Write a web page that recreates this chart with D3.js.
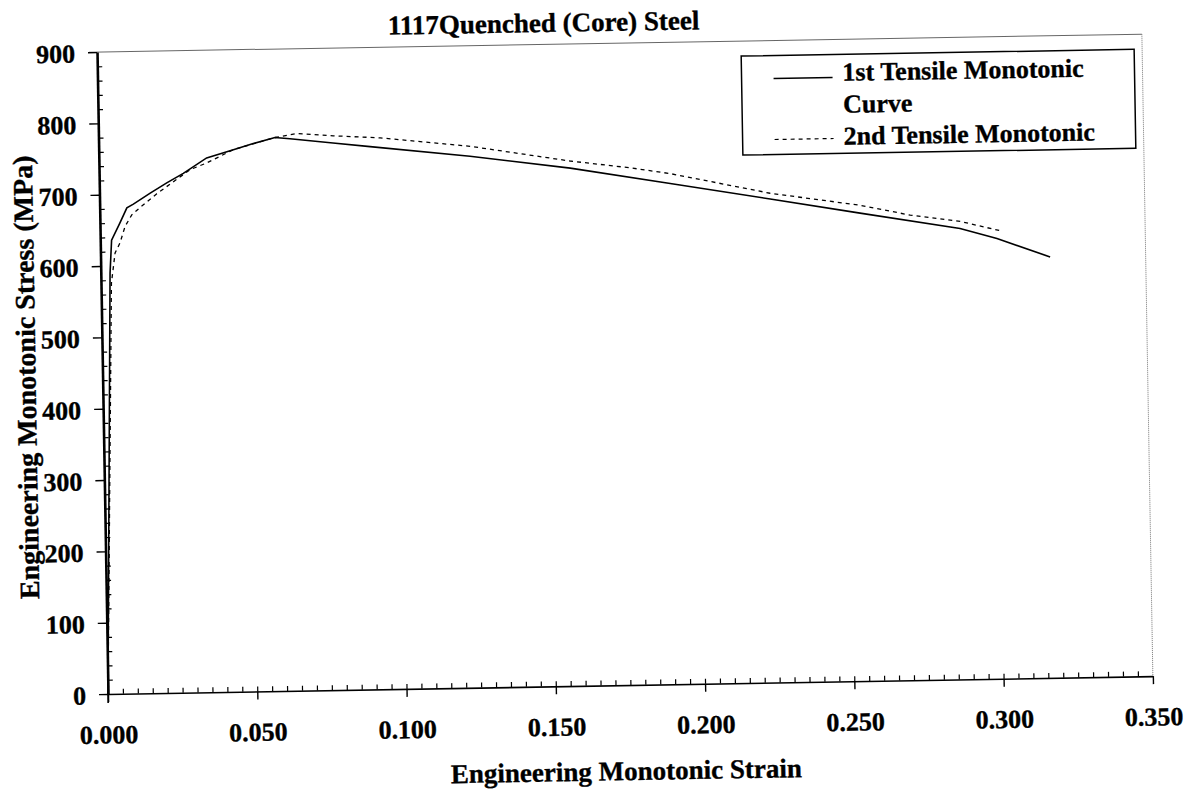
<!DOCTYPE html>
<html>
<head>
<meta charset="utf-8">
<script src="https://cdn.jsdelivr.net/npm/d3@7"></script>
<style>
  body { margin: 0; background: #fff; }
  svg text { font-family: "Liberation Serif", "Times New Roman", serif; font-weight: bold; fill: #000; stroke: #000; stroke-width: 0.35px; }
</style>
</head>
<body>
<div id="chart"></div>
<script>
// values
const chartTitle = "1117Quenched (Core) Steel";
const xTitle = "Engineering Monotonic Strain";
const yTitle = "Engineering Monotonic Stress (MPa)";
const seriesNames = [["1st Tensile Monotonic", "Curve"], ["2nd Tensile Monotonic"]];

const strain1 = [0, 0.0031, 0.0038, 0.0067, 0.0091, 0.0113, 0.017, 0.0226, 0.0282, 0.0361, 0.0451,
  0.0518, 0.0591, 0.0641, 0.0785, 0.0909, 0.1243, 0.1578, 0.1912, 0.2246, 0.2546, 0.288, 0.3003, 0.318];
const stress1 = [0, 590, 636, 660, 681, 686, 701, 715, 728, 749, 760,
  768, 776, 774, 767, 761, 745, 726, 702, 678, 656, 632, 617, 590];

const strain2 = [0, 0.0035, 0.0049, 0.0066, 0.0084, 0.0107, 0.0135, 0.0192, 0.0305, 0.0361, 0.0451,
  0.0591, 0.0664, 0.0786, 0.0943, 0.1244, 0.1578, 0.1779, 0.1912, 0.2246, 0.2547, 0.2714, 0.2881, 0.3014];
const stress2 = [0, 576, 618, 632, 655, 671, 681, 700, 733, 742, 760,
  776, 781, 777, 773, 759, 736, 725, 716, 686, 667, 652, 642, 628];

const xTicks = [0, 0.05, 0.1, 0.15, 0.2, 0.25, 0.3, 0.35];
const yTicks = [0, 100, 200, 300, 400, 500, 600, 700, 800, 900];

const width = 1204, height = 792;
const x = d3.scaleLinear().domain([0, 0.35]).range([108, 1153]);
const y = d3.scaleLinear().domain([0, 900]).range([694, 52]);

const svg = d3.select("#chart").append("svg")
  .attr("width", width).attr("height", height);

// the scan is tilted a little, so turn the whole plot about the origin
const g = svg.append("g")
  .attr("transform", `rotate(-0.98,${x(0)},${y(0)})`);

// top and right frame
g.append("line")
  .attr("x1", x(0) - 8).attr("x2", x(0.35))
  .attr("y1", y(900)).attr("y2", y(900))
  .attr("stroke", "#666").attr("stroke-width", 1);
g.append("line")
  .attr("x1", x(0.35)).attr("x2", x(0.35))
  .attr("y1", y(900)).attr("y2", y(0))
  .attr("stroke", "#777").attr("stroke-width", 1).attr("stroke-dasharray", "1,1");

// minor ticks
const xMinor = d3.range(1, 70).map(i => +(i * 0.005).toFixed(3));
const yMinor = d3.range(1, 45).map(i => i * 20).filter(v => v % 100 !== 0);

g.append("g")
  .attr("transform", `translate(0,${y(0)})`)
  .call(d3.axisBottom(x).tickValues(xMinor).tickSize(-5).tickFormat(""))
  .call(a => a.select(".domain").remove())
  .selectAll("line").attr("stroke", "#000").attr("stroke-width", 1.2);

g.append("g")
  .attr("transform", `translate(${x(0)},0)`)
  .call(d3.axisLeft(y).tickValues(yMinor).tickSize(-5).tickFormat(""))
  .call(a => a.select(".domain").remove())
  .selectAll("line").attr("stroke", "#000").attr("stroke-width", 1.2);

// x axis
const xAxis = g.append("g")
  .attr("transform", `translate(0,${y(0)})`)
  .call(d3.axisBottom(x).tickValues(xTicks).tickSize(8).tickSizeOuter(0)
    .tickPadding(23).tickFormat(d3.format(".3f")));
xAxis.select(".domain").attr("stroke", "#000").attr("stroke-width", 1.6);
xAxis.selectAll(".tick line").attr("stroke", "#000").attr("stroke-width", 1.4);
xAxis.selectAll(".tick text").attr("font-size", 26).attr("dy", "0.71em");

// y axis
const yAxis = g.append("g")
  .attr("transform", `translate(${x(0)},0)`)
  .call(d3.axisLeft(y).tickValues(yTicks).tickSize(9).tickSizeOuter(0)
    .tickPadding(13).tickFormat(d3.format("d")));
yAxis.select(".domain").attr("stroke", "#000").attr("stroke-width", 2.6);
yAxis.selectAll(".tick line").attr("stroke", "#000").attr("stroke-width", 1.4);
yAxis.selectAll(".tick text").attr("font-size", 26).attr("dy", "0.37em");
// 0 on the y axis continues below the x axis like a major tick
g.append("line")
  .attr("x1", x(0)).attr("x2", x(0))
  .attr("y1", y(0)).attr("y2", y(0) + 9)
  .attr("stroke", "#000").attr("stroke-width", 1.6);

// curves
const line = d3.line().x(d => x(d[0])).y(d => y(d[1]));
const data1 = strain1.map((s, i) => [s, stress1[i]]);
const data2 = strain2.map((s, i) => [s, stress2[i]]);

g.append("path").datum(data2)
  .attr("d", line).attr("fill", "none")
  .attr("stroke", "#000").attr("stroke-width", 1.3).attr("stroke-dasharray", "4,4");
g.append("path").datum(data1)
  .attr("d", line).attr("fill", "none")
  .attr("stroke", "#000").attr("stroke-width", 1.6);

// titles
g.append("text")
  .attr("x", 555).attr("y", 39.5)
  .attr("text-anchor", "middle").attr("font-size", 27)
  .text(chartTitle);

g.append("text")
  .attr("x", 625).attr("y", 789)
  .attr("text-anchor", "middle").attr("font-size", 27)
  .text(xTitle);

g.append("text")
  .attr("transform", "translate(41,376) rotate(-90)")
  .attr("text-anchor", "middle").attr("font-size", 28)
  .text(yTitle);

// legend
const legend = g.append("g").attr("transform", "translate(752,67)");
legend.append("rect")
  .attr("width", 393).attr("height", 99)
  .attr("fill", "#fff").attr("stroke", "#000").attr("stroke-width", 1.5);

const legendRows = [
  { name: seriesNames[0], dash: null, lineY: 23, baselines: [26.5, 58.5] },
  { name: seriesNames[1], dash: "4,4", lineY: 84, baselines: [90.5] }
];
legendRows.forEach(r => {
  legend.append("line")
    .attr("x1", 32).attr("x2", 91)
    .attr("y1", r.lineY).attr("y2", r.lineY)
    .attr("stroke", "#000")
    .attr("stroke-width", r.dash ? 1.2 : 1.6)
    .attr("stroke-dasharray", r.dash);
  r.name.forEach((t, i) => {
    legend.append("text")
      .attr("x", 101).attr("y", r.baselines[i])
      .attr("font-size", 26)
      .text(t);
  });
});
</script>
</body>
</html>
